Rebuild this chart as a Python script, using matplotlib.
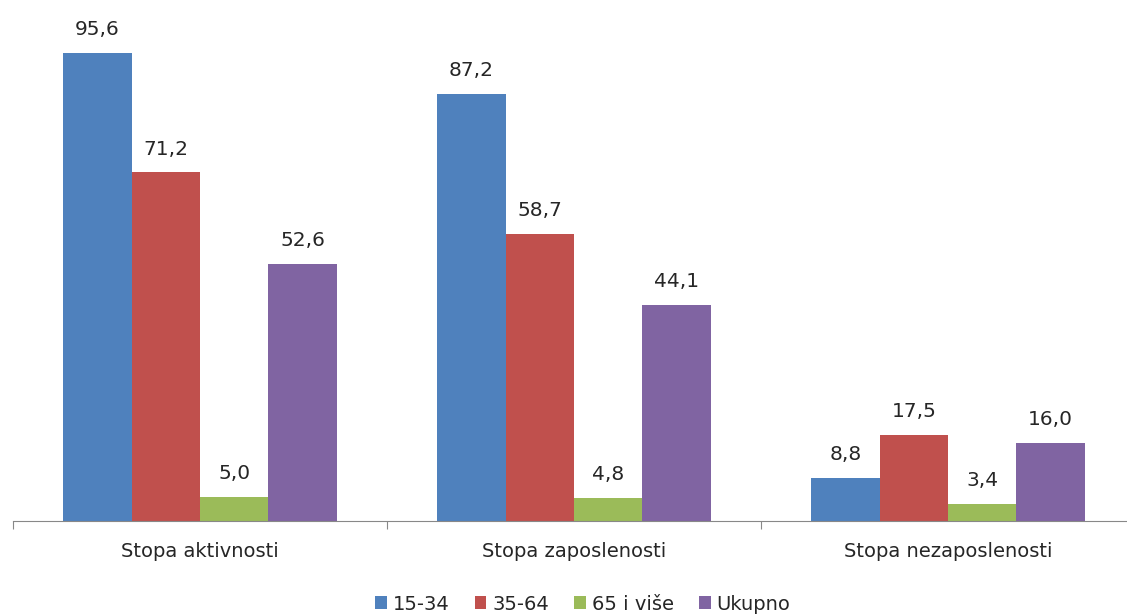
import matplotlib.pyplot as plt
import numpy as np

plt.rcParams['font.family'] = ['DejaVu Sans']

categories = ['Stopa aktivnosti', 'Stopa zaposlenosti', 'Stopa nezaposlenosti']
series_names = ['15-34', '35-64', '65 i više', 'Ukupno']
values = [
    [95.6, 87.2, 8.8],
    [71.2, 58.7, 17.5],
    [5.0, 4.8, 3.4],
    [52.6, 44.1, 16.0],
]
colors = ['#4F81BD', '#C0504D', '#9BBB59', '#8064A2']

fig = plt.figure(figsize=(11.27, 6.15), dpi=100)
ax = fig.add_axes([13 / 1127, 94 / 615, 1122 / 1127, 489.5 / 615])

x = np.arange(len(categories)) + 0.5
w = 0.183
for i, (name, vals) in enumerate(zip(series_names, values)):
    pos = x + (i - 1.5) * w
    bars = ax.bar(pos, vals, width=w, color=colors[i], label=name, zorder=2)
    for b, v in zip(bars, vals):
        ax.annotate(f'{v:.1f}'.replace('.', ','), (b.get_x() + b.get_width() / 2, v),
                    xytext=(0, 10), textcoords='offset points',
                    ha='center', va='bottom', fontsize=14.5, color='#262626')

ax.set_xlim(0, 3)
ax.set_ylim(0, 100)
for s in ['top', 'right', 'left']:
    ax.spines[s].set_visible(False)
ax.spines['bottom'].set_color('#888888')
ax.set_yticks([])
ax.set_xticks([0, 1, 2, 3])
ax.set_xticklabels([])
ax.tick_params(axis='x', which='major', length=6, color='#888888', direction='out')
ax.set_xticks(x, minor=True)
ax.set_xticklabels(categories, minor=True, fontsize=14, color='#262626')
ax.tick_params(axis='x', which='minor', length=0, pad=15)

fig.legend(loc='center', bbox_to_anchor=(0.517, 1 - 604 / 615), ncol=4,
           frameon=False, fontsize=14, handlelength=0.6, handleheight=0.6,
           columnspacing=1.3, handletextpad=0.3, labelcolor='#262626')

fig.savefig('out.png', dpi=100)
